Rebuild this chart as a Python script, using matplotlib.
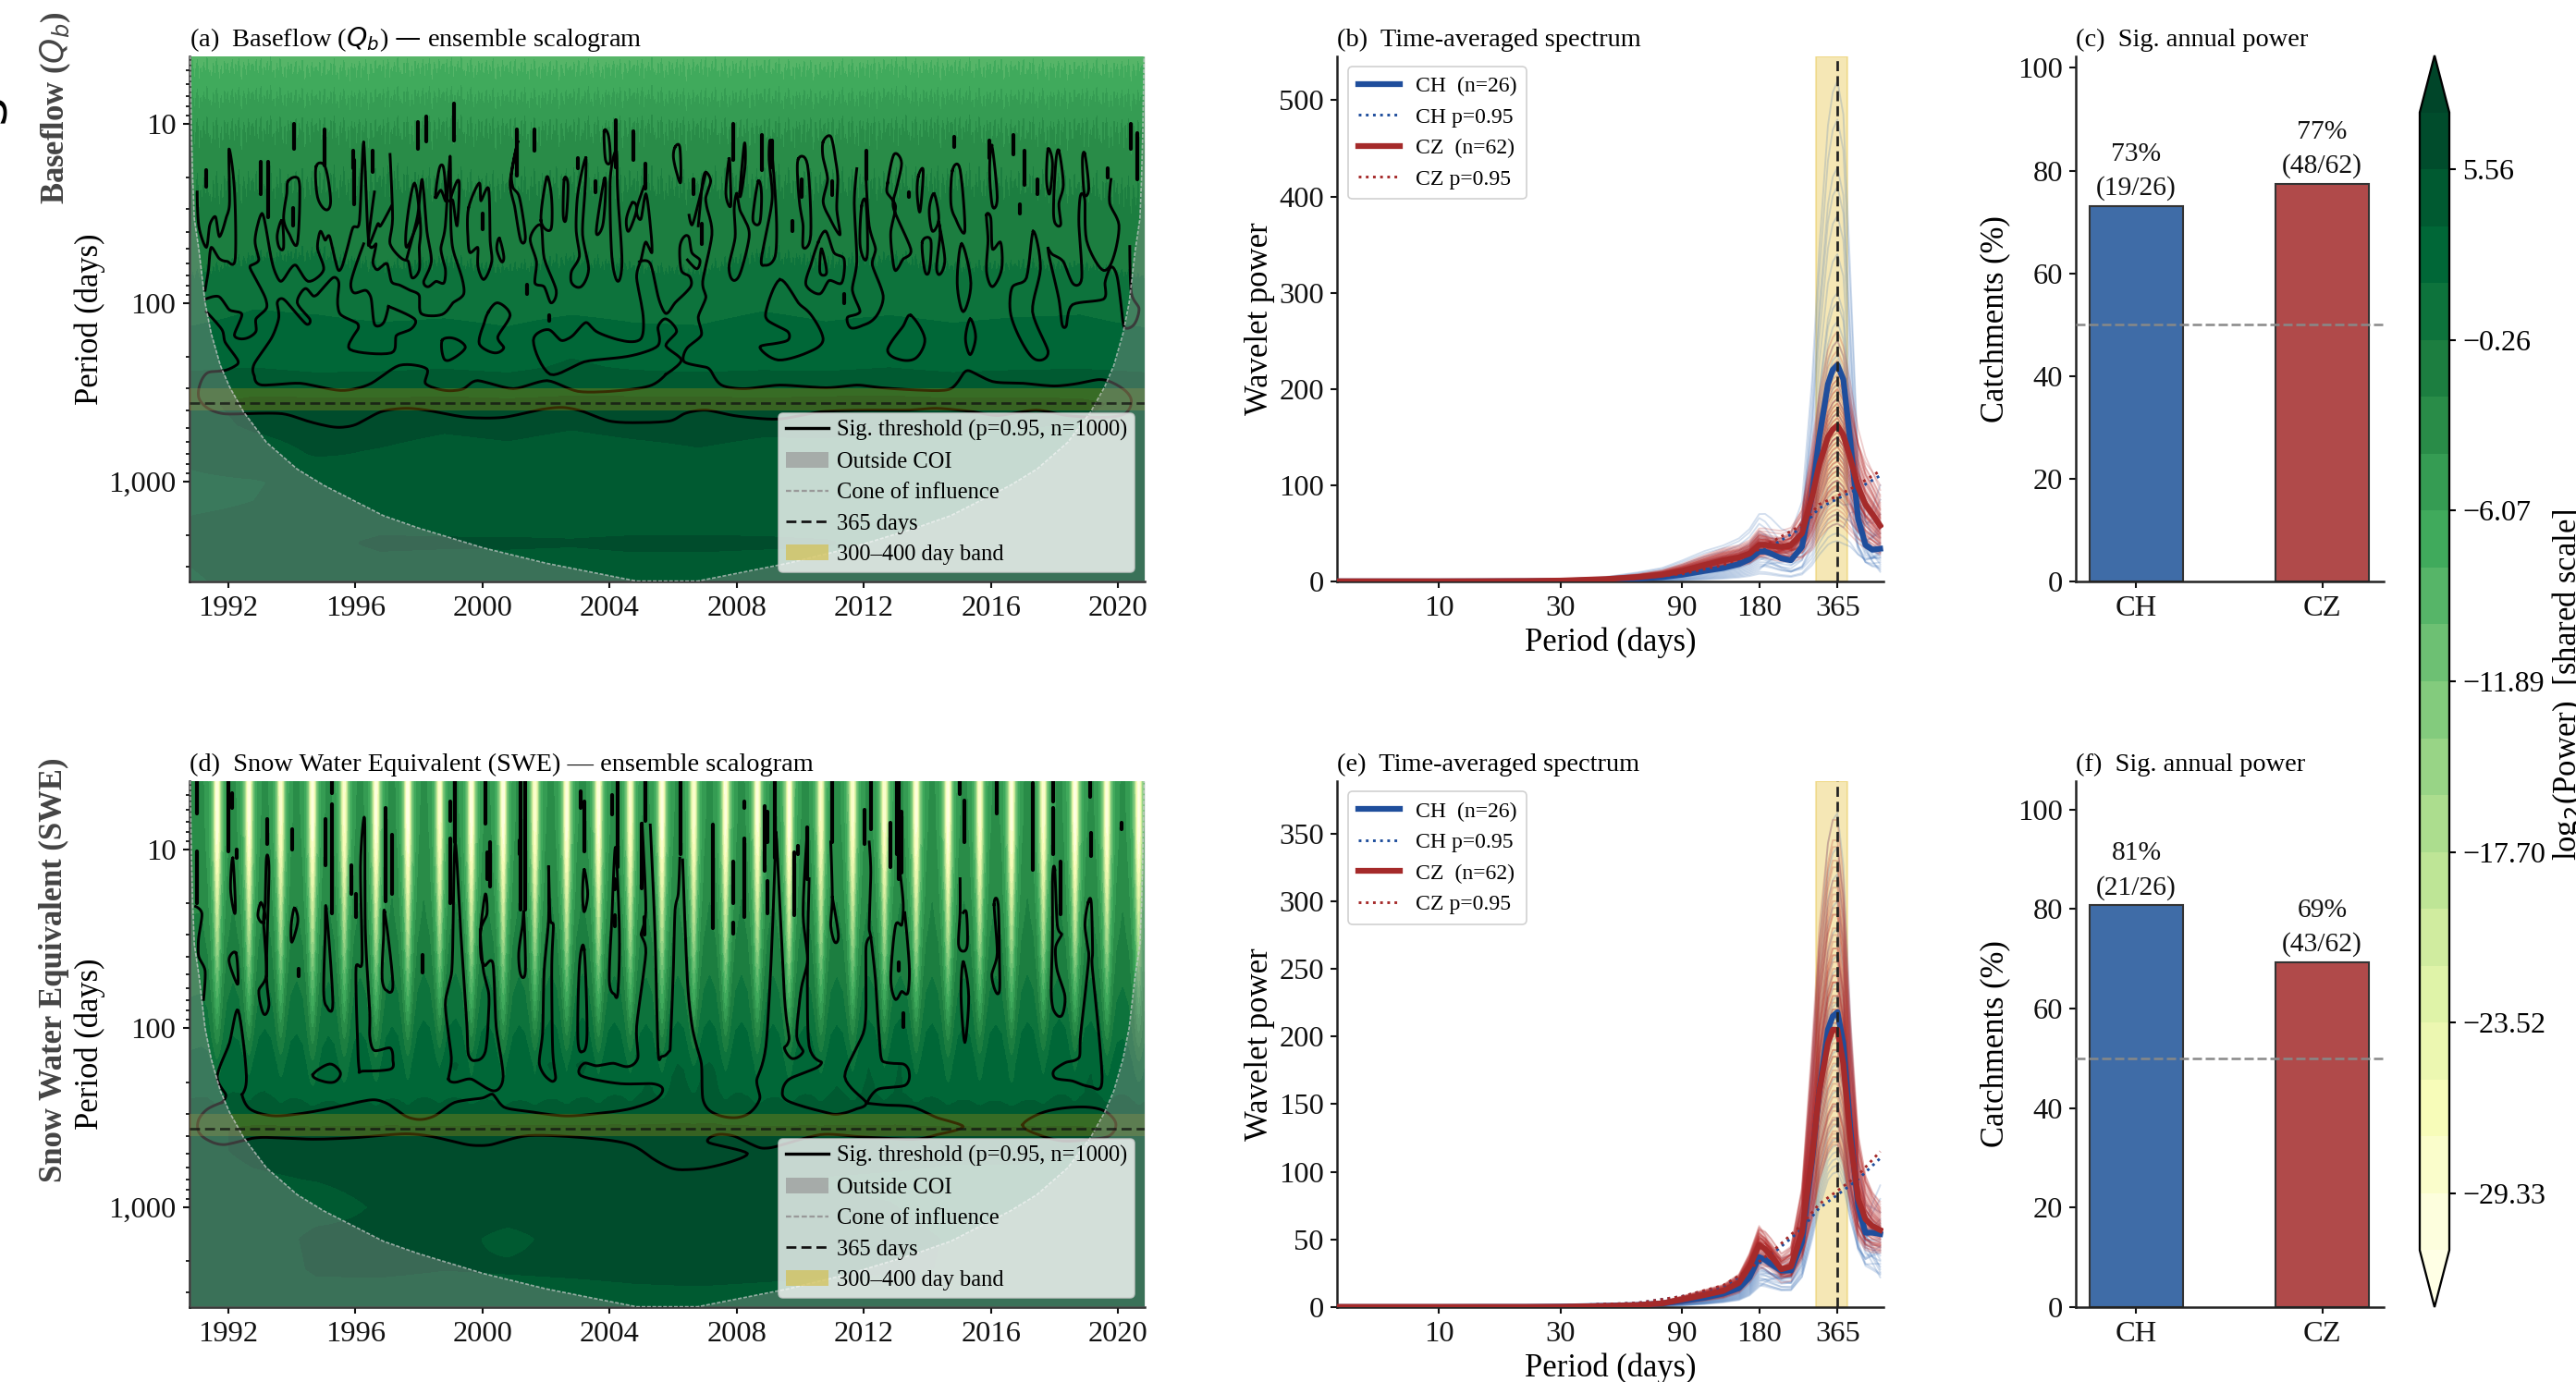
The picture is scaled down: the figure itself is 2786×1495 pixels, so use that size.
import numpy as np
import matplotlib
matplotlib.use('Agg')
import matplotlib.pyplot as plt
from matplotlib.lines import Line2D
from matplotlib.patches import Patch
from matplotlib.ticker import FuncFormatter, NullLocator

plt.rcParams['font.family'] = ['Liberation Serif', 'DejaVu Serif']

# ---- scalogram background, values (log2 power)
grid_years = [1990.8, 1992.8, 1994.8, 1996.8, 1998.8, 2000.8, 2002.8, 2004.8, 2006.8, 2008.8, 2010.8, 2012.8, 2014.8, 2016.8, 2018.8, 2020.8]
grid_periods = [4.2, 7, 10, 15, 22, 32, 50, 75, 110, 160, 230, 300, 365, 480, 700, 1000, 1500, 2200, 3650]
power_a = [
    [-9.1, -9.0, -9.2, -9.1, -9.0, -9.1, -9.2, -9.1, -9.0, -9.1, -9.2, -9.0, -9.1, -9.1, -9.2, -9.1],
    [-6.5, -6.3, -6.5, -6.4, -6.3, -6.5, -6.4, -6.3, -6.5, -6.4, -6.5, -6.3, -6.4, -6.5, -6.4, -6.5],
    [-4.7, -4.6, -4.6, -4.7, -4.5, -4.6, -4.7, -4.5, -4.6, -4.7, -4.6, -4.6, -4.5, -4.7, -4.6, -4.7],
    [-3.5, -3.4, -3.4, -3.3, -3.4, -3.5, -3.3, -3.4, -3.4, -3.3, -3.5, -3.4, -3.3, -3.4, -3.5, -3.6],
    [-2.6, -2.4, -2.4, -2.3, -2.4, -2.5, -2.3, -2.4, -2.5, -2.3, -2.4, -2.4, -2.3, -2.4, -2.5, -2.7],
    [-1.8, -1.4, -1.3, -1.4, -1.3, -1.5, -1.3, -1.4, -1.5, -1.3, -1.4, -1.3, -1.3, -1.4, -1.5, -1.9],
    [-1.1, -0.6, -0.5, -0.8, -0.7, -0.9, -0.6, -0.8, -0.9, -0.5, -0.7, -0.6, -0.8, -0.8, -0.9, -1.2],
    [-0.2, 0.4, 0.4, 0.0, 0.2, 0.0, 0.2, 0.0, -0.1, 0.4, 0.1, 0.3, 0.0, 0.1, 0.2, -0.2],
    [0.9, 1.7, 1.5, 1.1, 1.3, 1.0, 1.4, 1.1, 1.0, 1.6, 1.2, 1.4, 1.1, 1.3, 1.5, 0.9],
    [2.3, 2.7, 2.6, 2.5, 2.6, 2.2, 3.0, 2.4, 2.3, 3.0, 2.4, 2.9, 2.4, 2.8, 2.6, 2.2],
    [3.4, 3.6, 3.2, 3.3, 3.5, 3.2, 3.9, 3.4, 3.2, 3.4, 3.3, 3.6, 3.2, 3.4, 3.5, 3.3],
    [4.5, 5.0, 4.8, 4.9, 5.0, 4.8, 5.1, 5.0, 5.0, 4.9, 5.0, 5.1, 4.9, 5.0, 5.0, 4.6],
    [5.2, 6.0, 6.0, 5.9, 6.0, 5.9, 6.0, 6.0, 6.0, 5.9, 6.0, 6.0, 5.9, 5.9, 5.8, 5.2],
    [4.9, 5.8, 6.2, 6.1, 5.8, 6.0, 5.7, 6.0, 6.1, 5.9, 6.0, 5.9, 5.8, 5.7, 5.5, 5.0],
    [4.0, 4.8, 5.7, 5.4, 5.0, 5.2, 4.9, 5.1, 5.4, 5.1, 5.0, 4.9, 4.9, 4.7, 4.6, 4.2],
    [3.3, 3.5, 4.1, 4.6, 5.0, 4.7, 4.6, 4.8, 4.9, 5.3, 5.0, 4.6, 4.5, 4.5, 4.4, 3.9],
    [3.6, 3.7, 4.2, 4.5, 4.6, 4.5, 4.6, 4.5, 4.5, 4.7, 4.5, 4.5, 4.4, 4.4, 4.3, 3.8],
    [3.8, 4.1, 5.0, 5.9, 5.8, 5.8, 5.7, 5.9, 5.9, 5.8, 5.7, 5.0, 4.9, 4.6, 4.4, 3.9],
    [3.5, 3.9, 4.2, 4.3, 4.2, 4.3, 4.3, 4.4, 4.4, 4.3, 4.3, 4.2, 4.2, 4.1, 4.0, 3.6],
]
power_d = [
    [-3.6, -3.4, -3.5, -3.3, -3.4, -3.5, -3.3, -3.4, -3.5, -3.3, -3.4, -3.5, -3.4, -3.3, -3.5, -3.6],
    [-3.4, -3.2, -3.3, -3.1, -3.2, -3.3, -3.1, -3.2, -3.3, -3.1, -3.2, -3.3, -3.2, -3.1, -3.3, -3.4],
    [-3.2, -2.9, -3.0, -2.8, -2.9, -3.0, -2.8, -2.9, -3.0, -2.8, -2.9, -3.0, -2.9, -2.8, -3.0, -3.2],
    [-2.8, -2.6, -2.7, -2.5, -2.6, -2.7, -2.5, -2.6, -2.7, -2.5, -2.6, -2.7, -2.6, -2.5, -2.7, -2.8],
    [-2.3, -2.0, -2.1, -1.9, -2.0, -2.0, -1.8, -2.0, -2.0, -1.9, -2.0, -2.0, -2.0, -1.9, -2.0, -2.3],
    [-1.7, -1.3, -1.4, -1.2, -1.2, -1.3, -1.1, -1.3, -1.3, -1.2, -1.3, -1.3, -1.3, -1.2, -1.3, -1.7],
    [-1.0, -0.4, -0.6, -0.3, -0.2, -0.4, -0.2, -0.4, -0.3, -0.3, -0.4, -0.3, -0.4, -0.3, -0.3, -0.9],
    [0.0, 0.8, 0.6, 0.8, 1.1, 0.8, 1.2, 0.8, 1.0, 0.9, 0.8, 1.1, 0.8, 0.9, 1.1, 0.1],
    [0.9, 2.0, 1.6, 1.9, 2.6, 2.0, 2.6, 2.1, 2.5, 2.2, 2.0, 2.6, 2.0, 2.2, 2.6, 1.0],
    [2.4, 3.4, 2.5, 3.0, 3.8, 3.4, 3.9, 3.3, 3.8, 3.3, 3.2, 3.8, 3.0, 3.2, 3.8, 2.5],
    [3.3, 3.8, 2.9, 3.2, 3.3, 2.9, 3.2, 3.6, 4.4, 3.2, 3.7, 3.8, 3.1, 2.9, 3.8, 3.4],
    [4.4, 4.9, 4.6, 4.6, 4.9, 4.7, 4.8, 4.9, 5.0, 4.8, 4.7, 4.9, 4.7, 4.6, 4.9, 4.5],
    [5.2, 5.8, 5.7, 5.8, 5.7, 5.8, 5.8, 5.8, 5.9, 5.7, 5.8, 5.8, 5.7, 5.7, 5.7, 5.2],
    [5.2, 5.8, 6.0, 6.0, 5.8, 6.0, 6.0, 6.2, 6.2, 5.9, 6.1, 6.0, 5.8, 5.8, 5.6, 5.1],
    [5.0, 5.4, 5.6, 6.0, 6.1, 5.9, 6.1, 6.3, 6.3, 5.9, 5.5, 5.4, 5.3, 5.3, 5.2, 4.8],
    [4.2, 4.6, 5.0, 5.7, 5.9, 6.0, 5.9, 6.2, 6.3, 6.0, 5.7, 5.6, 5.3, 5.2, 5.0, 4.5],
    [4.3, 4.7, 5.9, 5.9, 5.9, 5.3, 5.9, 6.1, 6.2, 6.1, 5.9, 5.8, 5.5, 5.3, 5.1, 4.6],
    [4.2, 4.5, 5.8, 5.8, 5.6, 5.7, 5.8, 5.9, 6.0, 5.9, 5.8, 5.7, 5.5, 5.2, 5.0, 4.5],
    [3.9, 4.2, 4.6, 4.7, 4.7, 4.7, 4.8, 5.0, 5.0, 4.9, 4.8, 4.7, 4.6, 4.5, 4.3, 4.0],
]

# fine streaks at short periods in panel (a), pattern
streak_a = [0.5, -0.4, 0.8, -0.7, 0.2, 0.9, -0.9, 0.3, -0.2, 0.7, -0.6, 1.0, -0.3, 0.1, -0.8, 0.6,
            -0.5, 0.9, 0.0, -0.7, 0.4, -1.0, 0.7, -0.1, 0.6, -0.6, 0.2, 0.8, -0.9, 0.5, -0.3, 0.9,
            -0.4, -0.8, 0.6, 0.1, -0.6, 0.8, -0.2, 0.4]
streak_weight_a = [1.0, 1.0, 1.0, 0.9, 0.8, 0.6, 0.35, 0.15, 0, 0, 0, 0, 0, 0, 0, 0, 0, 0, 0]

# annual low-snow stripes in panel (d): drop in log2 power against distance from the stripe centre (years)
stripe_phase = [0, 0.05, 0.09, 0.14, 0.22, 0.32, 0.5]
stripe_periods = [4.2, 7, 10, 15, 22, 32, 50, 75, 110, 160, 230, 300, 365]
stripe_drop = [
    [-28, -27, -20, -10, -4.5, -1.6, 0],
    [-28, -27, -20, -10, -4.5, -1.6, 0],
    [-27, -25, -18, -9.5, -4.2, -1.5, 0],
    [-23, -21, -14, -8, -3.8, -1.4, 0],
    [-20, -17, -11, -6.5, -3.2, -1.2, 0],
    [-16, -14, -9.5, -5.6, -2.8, -1, 0],
    [-11, -9.5, -7, -4.5, -2.2, -0.7, 0],
    [-8, -7, -5.5, -3.6, -1.9, -0.6, 0],
    [-5, -4.6, -3.8, -2.7, -1.4, -0.4, 0],
    [-2.5, -2.3, -2.0, -1.5, -0.8, -0.2, 0],
    [-0.8, -0.8, -0.7, -0.5, -0.3, -0.1, 0],
    [-0.2, -0.2, -0.2, -0.1, -0.1, 0, 0],
    [0, 0, 0, 0, 0, 0, 0],
]
stripe_years = [1991.65, 1992.65, 1993.65, 1994.65, 1995.65, 1996.65, 1997.65, 1998.65, 1999.65, 2000.65,
                2001.65, 2002.65, 2003.65, 2004.65, 2005.65, 2006.65, 2007.65, 2008.65, 2009.65, 2010.65,
                2011.65, 2012.65, 2013.65, 2014.65, 2015.65, 2016.65, 2017.65, 2018.65, 2019.65, 2020.65]
stripe_strength = [1.0, 1.0, 0.9, 1.0, 0.9, 1.0, 1.05, 0.9, 1.0, 1.0, 0.92, 1.0, 1.0, 0.9, 1.0,
                   0.92, 0.98, 0.98, 1.02, 0.88, 0.92, 0.92, 0.98, 1.02, 0.92, 0.98, 0.92, 1.02, 0.98, 1.02]

# ---- cone of influence (year, log10 period), left half
coi_years = [1990.80, 1990.84, 1990.88, 1990.93, 1991.08, 1991.27, 1991.46, 1991.75, 1992.04, 1992.48, 1993.2, 1994.17, 1995.0, 1996.88, 1998.0, 2000.02, 2002.0, 2004.85]
coi_logp = [0.62, 1.05, 1.31, 1.53, 1.71, 2.0, 2.17, 2.35, 2.47, 2.61, 2.78, 2.93, 3.02, 3.19, 3.26, 3.37, 3.456, 3.556]
start_year, end_year = 1990.78, 2020.84

# ---- significance contours panel (a), (year, log10 period)
sig_open_a = [
    [(1991.02,1.38),(1991.07,1.57),(1991.31,1.69),(1991.41,1.57),(1991.60,1.52),(1991.72,1.63),(1991.94,1.52),(1992.04,1.43),(1992.02,1.14),(1992.19,1.36),(1992.22,1.75),(1991.99,1.77),(1991.70,1.75),(1991.46,1.69),(1991.38,1.81),(1991.27,1.93)],
    [(1991.27,1.98),(1991.70,1.965),(1992.04,2.04),(1992.43,2.065),(1992.19,2.18),(1992.53,2.20),(1992.87,2.16),(1992.87,2.09),(1993.2,2.03),(1993.11,1.95),(1992.72,1.82),(1992.72,1.79),(1992.96,1.76),(1992.84,1.65),(1993.06,1.50),(1993.25,1.65),(1993.4,1.79),(1993.64,1.88),(1993.88,1.83),(1994.13,1.79),(1994.51,1.88),(1995.0,1.815),(1994.81,1.70),(1994.9,1.60),(1995.05,1.65),(1995.19,1.63),(1995.44,1.81),(1995.63,1.77),(1995.92,1.58),(1996.13,1.54),(1996.26,1.10),(1996.41,1.65),(1996.65,1.67),(1996.55,1.77),(1996.7,1.815),(1996.99,1.78),(1997.13,1.88),(1997.38,1.90),(1997.72,1.93),(1998.01,1.96),(1998.07,2.06),(1998.73,2.065),(1999.07,2.0),(1999.41,1.95),(1999.32,1.84),(1999.07,1.70),(1999.0,1.53),(1998.98,1.18),(1998.83,1.57),(1998.69,1.70),(1998.83,1.81),(1998.78,1.89),(1998.54,1.88),(1998.3,1.91),(1998.15,1.88),(1998.39,1.77),(1998.25,1.60),(1998.1,1.31),(1997.96,1.51),(1997.62,1.75)],
    [(1997.09,1.17),(1997.17,1.53),(1997.09,1.67),(1997.48,1.755),(1997.67,1.77),(1997.78,1.86),(1998.01,1.815),(1998.01,1.69),(1998.05,1.57),(1997.86,1.33),(1997.62,1.55),(1997.62,1.69),(1998.01,1.53)],
    [(1996.6,1.38),(1996.5,1.51),(1996.41,1.68),(1996.7,1.56),(1996.79,1.57),(1997.13,1.46)],
    [(2005.08,1.35),(2004.85,1.48),(2004.99,1.53),(2005.14,1.39),(2005.28,1.565),(2005.33,1.72),(2005.14,1.66),(2004.99,1.76),(2004.85,1.86),(2005.04,2.05),(2004.99,2.20),(2004.36,2.21),(2003.58,2.16),(2003.25,2.11),(2002.86,2.18),(2002.47,2.21),(2002.08,2.15),(2001.6,2.21),(2002.13,2.40),(2003.2,2.33),(2004.55,2.30),(2005.52,2.24),(2005.52,2.14),(2005.77,2.09),(2006.11,2.16),(2005.77,2.24),(2006.26,2.32),(2005.77,2.40)],
    [(2004.94,1.77),(2005.28,1.78),(2005.52,1.96),(2005.77,2.06),(2006.06,2.0),(2006.55,1.91),(2006.5,1.85),(2006.26,1.82),(2006.21,1.69),(2006.35,1.63),(2006.5,1.635),(2006.59,1.72),(2006.84,1.76),(2006.74,1.81),(2006.45,1.76)],
    [(1997.04,2.02),(1997.86,2.09),(1997.72,2.15),(1997.28,2.185),(1997.13,2.28),(1995.82,2.26),(1996.07,2.15),(1996.02,2.11),(1995.53,2.065),(1995.44,1.98),(1995.48,1.89),(1995.29,1.86),(1994.85,1.945),(1994.66,1.96),(1994.42,1.92),(1994.17,2.0),(1994.56,2.09),(1994.47,2.12),(1994.17,2.065),(1993.74,1.98),(1993.54,2.0),(1993.59,2.08),(1993.35,2.20),(1992.82,2.34),(1992.82,2.41),(1993.06,2.46),(1994.27,2.45),(1995.53,2.49),(1996.5,2.45),(1997.38,2.35),(1998.25,2.37),(1998.2,2.45),(1998.83,2.49),(1999.41,2.48),(1999.85,2.435),(2000.97,2.48),(2002.03,2.435),(2003.0,2.495),(2004.36,2.49),(2005.33,2.46),(2005.77,2.40)],
    [(1997.04,2.02),(1996.89,2.11),(1996.6,2.12),(1996.5,1.98),(1996.31,1.93),(1995.97,1.945),(1995.87,1.875),(1996.26,1.67)],
    [(1991.31,2.05),(1991.8,2.15),(1991.9,2.22),(1992.28,2.315),(1992.24,2.35),(1991.85,2.38),(1991.36,2.39),(1991.12,2.45),(1991.07,2.53),(1991.36,2.59),(1991.85,2.62),(1992.53,2.62),(1993.69,2.62),(1994.47,2.66),(1995.34,2.695),(1996.02,2.68),(1996.79,2.61),(1997.67,2.59),(1998.54,2.61),(1999.51,2.64),(2000.67,2.64),(2001.74,2.60),(2002.52,2.585),(2003.2,2.61),(2003.97,2.66),(2004.85,2.67),(2005.91,2.66),(2006.35,2.62),(2007.03,2.60),(2007.9,2.63),(2009.31,2.65),(2010.62,2.61),(2012.07,2.60),(2013.43,2.60),(2014.3,2.59),(2015.47,2.61),(2016.25,2.63),(2017.41,2.60),(2018.38,2.63),(2019.54,2.64),(2020.22,2.62),(2020.42,2.55),(2020.22,2.49),(2019.74,2.44),(2019.35,2.43),(2018.77,2.45),(2017.99,2.465),(2017.02,2.45),(2016.05,2.44),(2015.32,2.38),(2015.08,2.41),(2014.74,2.48),(2014.0,2.49),(2012.56,2.475),(2011.78,2.46),(2010.81,2.475),(2009.36,2.46),(2008.29,2.48),(2007.52,2.46),(2007.22,2.39),(2007.03,2.36),(2006.35,2.33),(2006.45,2.25),(2006.89,2.18),(2006.79,2.08),(2007.03,1.97),(2006.93,1.88),(2007.22,1.62),(2007.08,1.48),(2007.03,1.41),(2007.18,1.32),(2007.03,1.27),(2006.93,1.32),(2006.84,1.48),(2006.79,1.57)],
    [(2006.5,1.51),(2006.59,1.565),(2006.74,1.48),(2007.03,1.27)],
    [(2017.8,1.695),(2017.94,1.73),(2018.28,1.77),(2018.57,1.89),(2018.86,1.86),(2018.77,1.565),(2018.82,1.40),(2018.96,1.43),(2019.01,1.65),(2019.5,1.815),(2019.84,1.755),(2020.03,1.565),(2019.74,1.445),(2019.78,1.31)],
    [(2017.8,1.695),(2017.85,1.755),(2018.14,1.98),(2018.24,2.12),(2018.38,2.125),(2018.57,2.01),(2019.54,1.98),(2019.59,1.89),(2019.78,1.80),(2019.98,1.86),(2020.13,2.065),(2020.22,2.14),(2020.51,2.12),(2020.66,2.03),(2020.42,1.945),(2020.37,1.685)],
    [(2011.78,1.25),(2011.7,1.445),(2011.78,1.77),(2011.64,1.93),(2011.88,2.05),(2011.49,2.08),(2011.59,2.14),(2011.98,2.125),(2012.37,2.08),(2012.61,1.96),(2012.27,1.79),(2012.37,1.70),(2012.17,1.57),(2012.07,1.31)],
]
sig_closed_a = [
    [(1993.88,1.32),(1994.17,1.30),(1994.25,1.39),(1994.17,1.67),(1993.93,1.62),(1993.74,1.53),(1993.84,1.39)],
    [(1993.69,1.54),(1993.74,1.69),(1993.6,1.69),(1993.54,1.62)],
    [(1994.76,1.24),(1995.05,1.24),(1995.22,1.43),(1995.07,1.48),(1994.81,1.41)],
    [(1998.52,1.41),(1998.64,1.25),(1998.78,1.25),(1998.85,1.43),(1998.69,1.37)],
    [(1998.98,1.43),(1999.17,1.33),(1999.27,1.34),(1999.2,1.57),(1999.07,1.43)],
    [(1999.56,1.47),(1999.9,1.33),(1999.95,1.43),(2000.19,1.36),(2000.24,1.65),(2000.29,1.77),(2000.04,1.87),(1999.85,1.79),(1999.85,1.69),(1999.61,1.72),(1999.54,1.63)],
    [(2000.53,1.64),(2000.67,1.74),(2000.6,1.77),(2000.45,1.70)],
    [(2001.11,1.10),(2000.92,1.27),(2000.97,1.36),(2001.16,1.41),(2001.35,1.63),(2001.2,1.65),(2001.01,1.46),(2000.87,1.32)],
    [(2001.84,1.565),(2001.5,1.64),(2001.7,1.77),(2001.65,1.89),(2001.94,1.91),(2002.15,2.0),(2002.32,1.93),(2001.94,1.75)],
    [(2001.84,1.54),(2001.99,1.32),(2002.08,1.31),(2002.18,1.43),(2002.15,1.59)],
    [(2002.57,1.31),(2002.69,1.34),(2002.63,1.53),(2002.54,1.51)],
    [(2003.25,1.19),(2003.22,1.39),(2003.15,1.62),(2003.34,1.81),(2003.1,1.91),(2002.81,1.89),(2002.81,1.82),(2003.05,1.74),(2002.95,1.60),(2003.0,1.39)],
    [(2003.83,1.04),(2003.97,1.07),(2004.02,1.21),(2003.87,1.20)],
    [(2003.83,1.31),(2003.58,1.60),(2003.78,1.57),(2003.87,1.39)],
    [(2004.21,1.15),(2004.02,1.31),(2004.07,1.74),(2004.26,1.88),(2004.39,1.77),(2004.28,1.46),(2004.24,1.32)],
    [(2004.72,1.44),(2004.53,1.53),(2004.6,1.60),(2004.85,1.48)],
    [(2000.19,2.05),(2000.48,2.0),(2000.87,2.07),(2000.48,2.19),(2000.67,2.25),(2000.38,2.28),(1999.9,2.23),(2000.04,2.12)],
    [(1998.73,2.21),(1999.12,2.20),(1999.46,2.25),(1999.03,2.315),(1998.78,2.31)],
    [(2006.06,1.13),(2006.21,1.13),(2006.24,1.32),(2006.14,1.29),(2006.01,1.19)],
    [(2007.76,1.195),(2007.66,1.39),(2007.81,1.46),(2007.8,1.3)],
    [(2008.0,1.39),(2008.1,1.48),(2008.29,1.55),(2008.39,1.635),(2008.1,1.84),(2007.86,1.87),(2007.76,1.79),(2007.95,1.635),(2007.92,1.48)],
    [(2008.1,1.38),(2008.24,1.11),(2008.27,1.22),(2008.15,1.38)],
    [(2008.68,1.32),(2008.78,1.39),(2008.73,1.55),(2008.53,1.55),(2008.53,1.48)],
    [(2009.07,1.10),(2009.24,1.48),(2009.21,1.74),(2008.87,1.79),(2008.78,1.75),(2009.02,1.53),(2009.12,1.39),(2009.02,1.20)],
    [(2009.94,1.195),(2010.23,1.23),(2010.33,1.62),(2010.09,1.69),(2010.09,1.57),(2009.99,1.46),(2009.92,1.31)],
    [(2010.72,1.10),(2010.96,1.07),(2011.11,1.20),(2011.18,1.31),(2011.15,1.48),(2011.25,1.62),(2010.91,1.52),(2010.72,1.43),(2010.86,1.31),(2010.72,1.19)],
    [(2010.57,1.66),(2010.81,1.60),(2011.06,1.72),(2011.38,1.755),(2011.3,1.89),(2010.91,1.875),(2010.62,1.95),(2010.18,1.90),(2010.33,1.79)],
    [(2010.67,1.70),(2010.83,1.83),(2010.62,1.83)],
    [(2011.93,1.46),(2011.88,1.67),(2012.03,1.76),(2012.12,1.70),(2012.07,1.44)],
    [(2012.75,1.33),(2012.95,1.17),(2013.19,1.22),(2013.0,1.38),(2012.95,1.48),(2013.48,1.70),(2013.24,1.755),(2013.0,1.82),(2012.9,1.74),(2012.85,1.60),(2013.0,1.46),(2012.75,1.39)],
    [(2013.72,1.29),(2013.87,1.26),(2013.77,1.49),(2013.68,1.39)],
    [(2014.21,1.39),(2014.36,1.53),(2014.16,1.60),(2014.06,1.48)],
    [(2014.36,1.55),(2014.55,1.755),(2014.4,1.84),(2014.29,1.80),(2014.4,1.62)],
    [(2013.84,1.66),(2014.11,1.65),(2014.06,1.82),(2013.92,1.82)],
    [(2014.79,1.26),(2015.03,1.255),(2015.18,1.60),(2014.89,1.53),(2014.74,1.44)],
    [(2015.08,1.67),(2015.37,1.89),(2015.13,2.05),(2014.94,1.89)],
    [(2015.35,2.09),(2015.52,2.19),(2015.35,2.29),(2015.2,2.2)],
    [(2015.86,1.51),(2016.0,1.53),(2016.05,1.70),(2016.3,1.66),(2016.34,1.81),(2016.05,1.91),(2015.86,1.82),(2015.91,1.65)],
    [(2016.03,1.12),(2016.2,1.41),(2016.05,1.46),(2015.96,1.27)],
    [(2017.33,1.60),(2017.56,1.81),(2017.31,2.05),(2017.8,2.27),(2017.46,2.32),(2017.07,2.25),(2016.63,2.07),(2016.68,1.91),(2017.12,1.86)],
    [(2017.8,1.14),(2017.94,1.22),(2017.85,1.39),(2017.75,1.31)],
    [(2018.14,1.15),(2018.28,1.34),(2018.14,1.445),(2018.2,1.56),(2018.04,1.56),(2017.97,1.48),(2018.04,1.22)],
    [(2018.96,1.17),(2019.08,1.36),(2018.94,1.39),(2018.88,1.2)],
    [(2009.36,1.87),(2009.94,2.0),(2010.33,2.065),(2010.72,2.20),(2010.33,2.27),(2009.31,2.32),(2008.73,2.25),(2009.12,2.23),(2009.6,2.21),(2009.6,2.16),(2009.07,2.11),(2008.92,2.05)],
    [(2013.48,2.07),(2013.92,2.20),(2013.63,2.31),(2013.09,2.315),(2012.75,2.26),(2013.24,2.13)],
]
# thin streak-like contours: year, top log10 period, bottom log10 period
sig_dash_a = [
    (1991.31,1.26,1.35),(1994.08,1.0,1.14),(1995.02,1.03,1.23),(1997.96,0.99,1.14),(1998.23,0.96,1.10),
    (1999.09,0.885,1.09),(2001.64,1.03,1.15),(2004.75,1.04,1.20),(2004.19,0.98,1.24),(1996.55,1.15,1.27),
    (1995.92,1.15,1.25),(2003.0,1.19,1.25),(2003.56,1.32,1.38),(2001.08,1.03,1.29),(2005.14,1.22,1.36),
    (1993.03,1.21,1.39),(1993.25,1.21,1.52),(1994.05,1.47,1.57),(1995.95,1.20,1.45),(2000.0,1.50,1.59),
    (2002.1,2.07,2.10),(2001.4,1.90,1.95),(2007.90,1.0,1.20),(2008.78,1.06,1.26),(2009.12,1.09,1.24),
    (2006.64,1.31,1.39),(2009.75,1.54,1.60),(2011.38,1.95,2.0),(2014.84,1.07,1.13),(2016.71,1.06,1.17),
    (2015.94,1.09,1.19),(2017.07,1.15,1.34),(2017.46,1.31,1.39),(2016.91,1.45,1.50),(2020.40,1.0,1.14),
    (2020.61,1.05,1.31),(2019.69,1.25,1.30),(2013.41,1.38,1.41),(2012.07,1.15,1.31),(2011.0,1.32,1.40),
    (2010.04,1.31,1.41),(2006.91,1.56,1.67),
]

# ---- significance contours panel (d)
sig_open_d = [
    [(1991.8,2.415),(1991.36,2.45),(1991.07,2.51),(1991.07,2.58),(1991.41,2.63),(1991.9,2.65),(1992.62,2.62),(1993.2,2.61),(1994.66,2.62),(1996.12,2.61),(1997.57,2.59),(1998.54,2.61),(1999.51,2.65),(2000.29,2.65),(2001.45,2.60),(2003.39,2.615),(2004.65,2.65),(2005.33,2.725),(2005.91,2.78),(2006.45,2.79),(2007.32,2.77),(2008.34,2.70),(2007.13,2.64),(2007.37,2.595),(2007.95,2.605),(2008.68,2.665),(2009.26,2.66),(2010.62,2.595),(2011.78,2.605),(2013.53,2.62),(2014.3,2.595),(2015.13,2.55),(2014.31,2.50),(2013.53,2.44),(2012.75,2.43),(2012.17,2.42),(2012.12,2.41),(2012.46,2.34),(2013.29,2.32),(2013.43,2.25),(2013.24,2.2),(2012.66,2.19),(2012.51,2.11),(2012.37,1.735),(2012.22,1.49),(2012.17,1.425),(2012.22,1.13),(2012.17,0.96)],
    [(1992.43,2.37),(1992.67,2.45),(1993.5,2.49),(1994.85,2.46),(1995.92,2.42),(1996.6,2.40),(1997.09,2.43),(1997.57,2.49),(1998.05,2.51),(1998.54,2.485),(1999.12,2.415),(2000.0,2.39),(2000.33,2.37),(2000.67,2.44),(2001.45,2.465),(2002.61,2.49),(2003.68,2.475),(2004.65,2.45),(2005.43,2.40),(2005.67,2.34),(2005.33,2.31),(2004.36,2.31),(2003.1,2.265),(2003.2,2.196),(2003.58,2.21),(2004.12,2.196),(2004.55,2.215),(2004.89,2.165),(2004.85,1.99),(2005.14,1.58),(2004.99,1.476),(2005.14,1.34),(2005.02,0.856)],
    [(1992.43,2.37),(1992.57,2.27),(1992.31,1.90),(1992.04,2.08),(1991.65,2.27),(1991.92,2.37),(1991.8,2.415)],
    [(1990.97,1.32),(1991.17,1.36),(1991.07,1.49),(1991.07,1.60),(1991.27,1.68),(1991.22,1.84)],
    [(2005.28,0.865),(2005.43,1.476),(2005.52,2.11),(2005.62,2.16),(2005.87,2.13),(2005.92,2.06),(2006.01,1.65),(2006.06,1.34),(2006.16,1.25),(2006.21,1.05)],
    [(2006.3,1.06),(2006.45,1.735),(2006.64,2.03),(2006.89,2.2),(2006.93,2.39),(2007.23,2.47),(2007.86,2.50),(2008.39,2.475),(2008.73,2.39),(2008.63,2.29),(2008.92,2.10),(2009.12,1.476),(2009.21,1.03),(2009.26,0.96),(2009.5,1.82),(2009.65,2.06),(2009.5,2.11),(2009.75,2.17),(2010.09,2.13),(2009.89,2.045),(2010.04,1.77),(2010.23,1.615),(2010.09,1.37),(2010.18,1.01),(2010.23,0.88)],
    [(2010.28,1.165),(2010.23,1.615),(2010.28,2.10),(2010.67,2.19),(2010.33,2.235),(2009.65,2.285),(2009.44,2.355),(2009.65,2.41),(2010.72,2.467),(2011.2,2.48),(2011.78,2.45),(2012.06,2.41),(2011.4,2.27),(2011.98,2.03),(2012.07,1.82),(2012.07,1.545),(2012.22,1.49)],
    [(2010.96,0.96),(2011.01,1.27),(2010.96,1.425),(2011.09,1.52),(2011.2,1.476),(2011.01,1.27)],
    [(2013.14,1.13),(2013.24,1.30),(2013.19,1.425),(2013.0,1.425),(2012.85,1.72),(2013.0,1.84),(2013.19,1.795),(2013.38,1.805),(2013.43,1.65),(2013.29,1.355)],
    [(2015.03,1.165),(2015.03,1.355),(2014.98,1.53),(2015.13,1.57),(2015.26,1.53),(2015.23,1.355),(2015.13,1.355)],
]
sig_closed_d = [
    [(2017.0,2.54),(2017.7,2.467),(2018.77,2.44),(2019.54,2.46),(2019.93,2.53),(2019.74,2.6),(2019.16,2.62),(2018.28,2.63),(2017.5,2.595)],
    [(1996.12,2.235),(1996.22,2.24),(1997.09,2.23),(1997.18,2.18),(1997.09,2.11),(1996.6,2.125),(1996.45,2.04),(1996.45,1.91),(1996.31,1.44),(1996.29,0.83),(1996.16,1.10),(1996.21,1.63),(1996.02,1.66),(1996.07,2.08)],
    [(1994.66,2.26),(1995.19,2.2),(1995.53,2.25),(1995.34,2.30),(1994.95,2.295)],
    [(1998.93,2.285),(1999.22,2.30),(1999.66,2.285),(2000.33,2.35),(2000.65,2.27),(2000.43,1.99),(2000.33,1.64),(2000.09,1.65),(1999.95,1.60),(1999.95,1.445),(2000.14,1.36),(2000.09,1.25),(1999.95,1.43),(1999.95,1.53),(2000.04,1.69),(2000.19,1.80),(2000.19,1.92),(2000.09,2.13),(1999.8,2.18),(1999.56,2.15),(1999.51,1.99),(1999.32,1.476),(1999.14,0.96),(1999.07,1.476),(1999.02,1.70),(1998.83,1.87),(1999.02,2.165)],
    [(2002.08,1.10),(2002.13,1.39),(2002.23,1.425),(2002.18,1.65),(2002.21,2.13),(2002.3,2.28),(2002.08,2.285),(2001.79,2.2),(2001.89,2.03),(2001.94,1.68),(2002.08,1.39)],
    [(2003.2,1.56),(2003.29,2.03),(2003.15,2.13),(2003.0,2.06),(2003.05,1.65)],
    [(2003.2,1.115),(2003.31,1.25),(2003.2,1.35),(2003.15,1.25)],
    [(2004.21,1.03),(2004.31,1.476),(2004.26,1.80),(2004.15,1.81),(2003.99,1.735),(2004.07,1.39),(2004.15,1.05)],
    [(2001.3,1.36),(2001.35,1.68),(2001.2,1.70),(2001.14,1.58),(2001.26,1.425)],
    [(1993.11,1.41),(1993.2,1.70),(1992.96,1.79),(1993.11,1.92),(1993.28,1.87),(1993.2,1.68),(1993.28,1.13),(1993.2,1.05),(1993.16,1.30)],
    [(1993.03,1.30),(1992.93,1.37),(1993.06,1.41),(1993.16,1.37)],
    [(1992.24,1.58),(1992.02,1.62),(1992.24,1.74),(1992.31,1.735)],
    [(1992.14,1.05),(1992.22,1.30),(1992.19,1.355),(1992.07,1.22)],
    [(1994.08,1.33),(1994.19,1.40),(1994.0,1.52),(1993.98,1.425)],
    [(1995.08,1.33),(1995.29,1.855),(1995.1,1.88),(1995.0,1.79),(1995.05,1.476)],
    [(1996.92,1.35),(1997.18,1.75),(1996.99,1.79),(1996.84,1.72),(1996.89,1.476)],
    [(2015.13,1.63),(2015.3,1.82),(2015.18,2.08),(2015.06,1.82)],
    [(2016.1,1.31),(2016.23,1.31),(2016.27,1.63),(2016.27,1.79),(2016.15,1.795),(2016.03,1.70),(2016.2,1.58)],
    [(2018.01,1.115),(2018.09,1.425),(2018.23,1.476),(2018.04,1.545),(2018.09,1.68),(2018.33,1.82),(2018.23,1.93),(2017.99,1.905),(2017.9,1.79),(2017.94,1.476),(2017.94,1.165)],
    [(2019.06,1.30),(2019.16,1.30),(2019.2,1.58),(2019.2,1.68),(2019.5,2.27),(2019.2,2.33),(2018.57,2.295),(2018.04,2.28),(2017.99,2.235),(2018.38,2.19),(2018.77,2.165),(2018.82,2.045),(2019.06,1.65),(2019.06,1.56),(2018.96,1.425)],
]
sig_dash_d = [
    (1992.0,0.615,1.01),(1992.11,0.685,0.77),(1992.26,1.0,1.05),(1993.23,0.83,0.97),(1994.0,0.89,1.0),
    (1995.26,0.615,0.685),(1995.26,0.75,1.36),(1995.05,0.83,1.09),(1995.87,1.09,1.25),(1996.96,0.77,1.29),
    (1997.15,0.92,1.25),(1998.98,0.735,0.84),(1998.98,0.94,1.30),(1999.14,0.615,0.96),(2000.09,0.615,0.856),
    (2000.14,1.02,1.17),(2000.24,0.96,1.21),(2001.16,0.95,1.03),(2001.21,0.615,1.34),(2001.33,0.615,1.34),
    (2003.1,0.675,0.77),(2003.2,0.735,1.01),(2004.07,0.70,0.805),(2004.24,0.615,1.10),(2004.17,1.165,1.225),
    (2004.17,1.37,1.43),(2005.14,0.615,0.84),(2005.02,0.856,1.22),(2005.09,1.38,1.476),(1991.02,0.615,0.80),
    (1991.02,1.01,1.30),(1998.1,1.59,1.69),(1994.2,1.67,1.71),(1996.02,1.25,1.38),
    (2006.24,0.615,1.03),(2007.24,0.865,1.44),(2007.9,1.07,1.30),(2007.88,1.41,1.47),(2008.24,0.735,0.77),
    (2008.24,0.94,1.38),(2008.87,0.76,1.12),(2008.97,0.79,0.96),(2008.97,1.18,1.36),(2009.21,0.615,1.05),
    (2009.82,1.02,1.37),(2009.94,0.98,1.03),(2010.23,0.88,1.165),(2010.99,0.615,0.96),(2012.03,0.78,0.97),
    (2012.22,0.62,0.89),(2012.85,0.85,1.10),(2013.09,0.615,1.17),(2013.19,0.79,1.13),(2013.05,0.615,1.03),
    (2015.03,0.615,0.69),(2015.18,0.73,0.96),(2016.17,0.615,0.80),(2017.33,0.63,1.115),(2017.97,0.615,0.735),
    (2017.97,0.77,1.03),(2018.19,1.07,1.365),(2019.11,0.615,0.71),(2019.14,0.91,1.04),(2020.11,0.85,0.89),
    (2013.09,1.63,1.68),(2013.24,1.915,1.995),
]

# ---- time-averaged spectra
spec_periods = [4, 7, 10, 15, 22, 30, 45, 60, 75, 90, 110, 130, 150, 165, 180, 190, 200, 220, 240, 265, 290, 310, 335, 350, 365, 385, 410, 440, 470, 500, 537]
ch_mean_b = [0.1, 0.1, 0.1, 0.2, 0.3, 0.6, 1.5, 3, 4.5, 7, 11, 14, 18, 23, 31, 31, 29, 24, 22, 36, 90, 150, 205, 220, 225, 210, 145, 65, 38, 33, 34]
cz_mean_b = [0.2, 0.2, 0.2, 0.3, 0.5, 0.9, 2.5, 4.5, 7, 11, 17, 22, 25, 29, 38, 38, 37, 36, 38, 50, 88, 122, 150, 158, 162, 152, 128, 98, 80, 70, 58]
ch_mean_e = [0.1, 0.1, 0.1, 0.2, 0.2, 0.4, 1, 1.6, 2.8, 4.6, 7, 10, 14, 22, 37, 35, 32, 27, 27, 48, 108, 160, 205, 215, 218, 195, 132, 75, 55, 55, 54]
cz_mean_e = [0.2, 0.2, 0.2, 0.2, 0.2, 0.3, 0.8, 1.5, 2.8, 5.6, 9, 12, 18, 30, 46, 43, 38, 28, 30, 55, 110, 160, 195, 205, 205, 180, 125, 80, 65, 60, 57]
sig_periods = [30, 60, 90, 130, 165, 211, 262, 309, 365, 437, 537]
ch_sig_b = [1, 3, 7, 15, 25, 40, 55, 76, 86, 96, 110]
cz_sig_b = [1, 3, 8, 17, 28, 44, 58, 80, 89, 100, 115]
ch_sig_e = [1, 3, 8, 15, 27, 42, 57, 73, 83, 94, 110]
cz_sig_e = [1, 3, 8, 16, 28, 44, 60, 76, 86, 97, 115]

# single catchments: power near 180 days, at the annual peak and at the long end
ch_semi_b = [70, 24, 45, 12, 60, 30, 8, 38, 52, 22, 66, 18, 34, 42, 10, 48, 26, 32, 14, 40, 28, 20, 36, 16, 25, 30]
ch_peak_b = [520, 60, 290, 480, 150, 250, 42, 410, 120, 340, 235, 85, 430, 175, 50, 380, 70, 205, 300, 105, 270, 135, 190, 95, 160, 220]
ch_tail_b = [38, 100, 22, 45, 14, 70, 32, 26, 55, 12, 36, 85, 18, 40, 30, 10, 60, 24, 34, 20, 50, 16, 34, 28, 25, 30]
cz_semi_b = [38, 42, 30, 50, 36, 28, 44, 55, 33, 39, 47, 25, 41, 34, 37, 52, 29, 43, 35, 48, 31, 40, 45, 27, 38, 36, 49, 32, 42, 39, 26, 46,
             34, 41, 37, 53, 30, 44, 35, 40, 28, 47, 33, 38, 43, 31, 50, 36, 29, 45, 39, 34, 42, 37, 27, 48, 35, 40, 32, 44, 38, 41]
cz_peak_b = [260, 120, 180, 90, 215, 150, 75, 240, 135, 165, 105, 200, 60, 175, 145, 225, 115, 190, 85, 155, 130, 210, 100, 170, 140, 250, 95, 185, 125, 160, 70, 205,
             150, 110, 195, 80, 165, 135, 220, 105, 175, 120, 155, 65, 230, 145, 190, 100, 170, 130, 160, 88, 200, 140, 115, 180, 150, 210, 125, 165, 98, 185]
cz_tail_b = [95, 45, 70, 30, 100, 55, 38, 80, 50, 62, 35, 75, 28, 60, 48, 90, 42, 66, 33, 58, 52, 85, 40, 64, 46, 72, 36, 68, 54, 60, 30, 78,
             56, 44, 70, 34, 62, 50, 82, 40, 66, 47, 58, 32, 88, 53, 69, 41, 61, 49, 57, 37, 74, 51, 43, 65, 55, 76, 46, 63, 39, 67]
ch_semi_e = [40, 22, 32, 15, 36, 27, 18, 38, 30, 24, 34, 20, 37, 28, 16, 33, 25, 35, 19, 31, 26, 21, 36, 17, 29, 23]
ch_peak_e = [365, 110, 240, 320, 150, 210, 100, 300, 135, 260, 190, 125, 340, 170, 105, 280, 140, 225, 250, 120, 200, 160, 230, 115, 180, 215]
ch_tail_e = [55, 90, 30, 70, 24, 60, 45, 35, 65, 22, 50, 80, 28, 58, 42, 26, 62, 38, 52, 32, 48, 25, 56, 40, 34, 44]
cz_semi_e = [46, 52, 38, 60, 44, 33, 50, 57, 40, 47, 54, 28, 49, 42, 45, 58, 35, 51, 43, 55, 37, 48, 53, 31, 46, 44, 56, 39, 50, 47, 30, 53,
             41, 49, 45, 59, 36, 52, 43, 48, 34, 55, 40, 46, 51, 37, 57, 44, 35, 52, 47, 41, 50, 45, 32, 54, 42, 48, 39, 51, 46, 49]
cz_peak_e = [360, 180, 260, 140, 310, 220, 125, 340, 195, 240, 160, 290, 120, 250, 210, 325, 170, 275, 135, 230, 190, 300, 150, 245, 205, 345, 145, 265, 185, 235, 130, 295,
             215, 165, 280, 128, 240, 200, 315, 155, 255, 175, 225, 122, 330, 210, 270, 150, 245, 190, 230, 138, 290, 205, 170, 260, 220, 305, 185, 240, 148, 265]
cz_tail_e = [72, 50, 62, 42, 78, 56, 46, 70, 52, 60, 44, 66, 40, 58, 54, 74, 48, 64, 43, 57, 51, 68, 45, 61, 53, 76, 47, 63, 55, 59, 41, 67,
             57, 49, 65, 44, 60, 53, 71, 46, 62, 50, 58, 42, 73, 54, 64, 47, 59, 52, 56, 45, 69, 55, 48, 61, 57, 70, 51, 60, 46, 63]

# ---- significant annual power
bar_labels = ['CH', 'CZ']
bar_values_c = [73.08, 77.42]
bar_values_f = [80.77, 69.35]
bar_notes_c = ['73%\n(19/26)', '77%\n(48/62)']
bar_notes_f = ['81%\n(21/26)', '69%\n(43/62)']

# ---- colour scale
level_low, level_high, n_levels = -31.27, 7.5, 21
cbar_ticks = [-29.33, -23.52, -17.70, -11.89, -6.07, -0.26, 5.56]

W, H = 2787, 1495
CH_COL, CZ_COL = '#1f4e9c', '#a52a2a'


def rect(left, top, right, bottom):
    return [left / W, 1 - bottom / H, (right - left) / W, (bottom - top) / H]


def smooth(pts, closed, n=3):
    p = np.array(pts, dtype=float)
    for _ in range(n):
        if closed:
            a, b, c, d = np.roll(p, 1, axis=0), p, np.roll(p, -1, axis=0), np.roll(p, -2, axis=0)
            mid = 9 / 16 * (b + c) - 1 / 16 * (a + d)
            q = np.empty((2 * len(p), 2))
            q[0::2] = p
            q[1::2] = mid
        else:
            e = np.vstack([p[0], p, p[-1]])
            mid = 9 / 16 * (e[1:-2] + e[2:-1]) - 1 / 16 * (e[:-3] + e[3:])
            q = np.empty((2 * len(p) - 1, 2))
            q[0::2] = p
            q[1::2] = mid
        p = q
    if closed:
        p = np.vstack([p, p[0]])
    return p


def background(table, t, lp):
    table = np.array(table, dtype=float)
    rows = np.log10(grid_periods)
    cols = np.array([np.interp(lp, rows, table[:, j]) for j in range(table.shape[1])])
    return np.array([np.interp(t, grid_years, cols[:, i]) for i in range(len(lp))])


t_fine = np.arange(start_year, end_year + 0.012, 0.0125)
lp_fine = np.linspace(np.log10(4.17), np.log10(3620), 320)

# panel (a) field
z_a = background(power_a, t_fine, lp_fine)
streak_t = start_year + 0.05 * np.arange(len(streak_a) * 16)
streak_v = np.interp(t_fine, streak_t, np.tile(streak_a, 16))
weight = np.interp(lp_fine, np.log10(grid_periods), streak_weight_a)
z_a = z_a + np.outer(weight, streak_v)

# panel (d) field
z_d = background(power_d, t_fine, lp_fine)
centres = np.array(stripe_years)
nearest = np.abs(t_fine[:, None] - centres[None, :]).argmin(axis=1)
dist = np.abs(t_fine - centres[nearest])
strength = np.array(stripe_strength)[nearest]
drops = np.array(stripe_drop, dtype=float)
for i, v in enumerate(lp_fine):
    prof = [np.interp(v, np.log10(stripe_periods), drops[:, j]) for j in range(drops.shape[1])]
    z_d[i] += np.interp(dist, stripe_phase, prof) * strength

levels = np.linspace(level_low, level_high, n_levels)
fig = plt.figure(figsize=(W / 300, H / 300), dpi=300, facecolor='white')


def style_axis(ax):
    ax.spines['top'].set_visible(False)
    ax.spines['right'].set_visible(False)
    for s in ax.spines.values():
        s.set_linewidth(0.6)
        s.set_color('#222222')
    ax.tick_params(axis='both', which='major', labelsize=7.8, length=1.6, width=0.5, pad=1.9, colors='#111111')
    ax.tick_params(axis='both', which='minor', length=0.9, width=0.4)


def scalogram(rc, field, open_loops, closed_loops, dashes, title):
    ax = fig.add_axes(rc)
    cf = ax.contourf(t_fine, 10 ** lp_fine, field, levels=levels, cmap='YlGn', extend='both')
    ax.set_yscale('log')
    ax.set_ylim(3614, 4.17)
    ax.set_xlim(start_year, end_year)
    for pts in open_loops:
        s = smooth(pts, False)
        ax.plot(s[:, 0], 10 ** s[:, 1], color='k', lw=0.7, zorder=2)
    for pts in closed_loops:
        s = smooth(pts, True)
        ax.plot(s[:, 0], 10 ** s[:, 1], color='k', lw=0.7, zorder=2)
    for yr, top, bot in dashes:
        ax.plot([yr, yr], [10 ** top, 10 ** bot], color='k', lw=1.0, solid_capstyle='round', zorder=2)
    ax.axhspan(300, 400, color='#b8960c', alpha=0.3, lw=0, zorder=3)
    left_t = np.array(coi_years)
    left_p = 10 ** np.array(coi_logp)
    right_t = (start_year + end_year) - left_t[::-1]
    coi_t = np.concatenate([[start_year], left_t, right_t, [end_year]])
    coi_p = np.concatenate([[4.17], left_p, left_p[::-1], [4.17]])
    ax.fill_between(coi_t, coi_p, 3614, color='#999999', alpha=0.38, lw=0, zorder=4)
    ax.plot(coi_t, coi_p, color='#cfcfcf', lw=0.4, alpha=0.7, ls=(0, (2.5, 1.0)), zorder=4)
    ax.axhline(365, color='#111111', lw=0.65, ls=(0, (4, 2)), alpha=0.75, zorder=5)
    style_axis(ax)
    ax.set_xticks(np.arange(1992, 2021, 4))
    ax.yaxis.set_major_formatter(FuncFormatter(lambda v, _: f'{int(v):,}'))
    ax.set_ylabel('Period (days)', fontsize=8.3, labelpad=0.8)
    ax.set_title(title, loc='left', fontsize=6.8, pad=2.6)
    handles = [Line2D([], [], color='k', lw=0.8),
               Patch(color='#999999', alpha=0.7, lw=0),
               Line2D([], [], color='#999999', lw=0.55, ls=(0, (2.5, 1.2))),
               Line2D([], [], color='#111111', lw=0.65, ls=(0, (4, 2))),
               Patch(color='#d4c050', alpha=0.7, lw=0)]
    names = ['Sig. threshold (p=0.95, n=1000)', 'Outside COI', 'Cone of influence', '365 days', '300–400 day band']
    leg = ax.legend(handles, names, loc='lower right', bbox_to_anchor=(0.989, 0.018), borderaxespad=0,
                    fontsize=5.9, framealpha=0.78, edgecolor='#cccccc', handlelength=1.9, handletextpad=0.35,
                    labelspacing=0.46, borderpad=0.3, facecolor='white')
    leg.get_frame().set_linewidth(0.4)
    leg.set_zorder(10)
    return ax, cf


def lines_for(periods, mean, semi, peak, tail):
    mean = np.array(mean, dtype=float)
    lp = np.log10(periods)
    at = lambda p: np.interp(np.log10(p), lp, mean)
    out = []
    for s, pk, tl in zip(semi, peak, tail):
        ms = s / at(180)
        m = np.interp(lp, np.log10([90, 180, 290, 400, 537]), [ms ** 1.4, ms, pk / at(365), pk / at(365), tl / at(537)])
        out.append(mean * m)
    return out


def spectrum(rc, ymax, yticks, title, ch_mean, cz_mean, ch_sig, cz_sig, ch_lists, cz_lists):
    ax = fig.add_axes(rc)
    ax.set_xscale('log')
    ax.set_xlim(4, 553)
    ax.set_ylim(0, ymax)
    ax.axvspan(300, 400, color='#e8c547', alpha=0.4, lw=0.5, zorder=1)
    for y in lines_for(spec_periods, ch_mean, *ch_lists):
        ax.plot(spec_periods, y, color='#3b6fb6', lw=0.45, alpha=0.22, zorder=2)
    for y in lines_for(spec_periods, cz_mean, *cz_lists):
        ax.plot(spec_periods, y, color='#b22222', lw=0.45, alpha=0.22, zorder=3)
    ax.plot(sig_periods, ch_sig, color=CH_COL, lw=0.7, ls=':', zorder=4)
    ax.plot(sig_periods, cz_sig, color=CZ_COL, lw=0.7, ls=':', zorder=6)
    l1, = ax.plot(spec_periods, ch_mean, color=CH_COL, lw=1.5, zorder=5)
    l2, = ax.plot(spec_periods, cz_mean, color=CZ_COL, lw=1.5, zorder=5)
    ax.axvline(365, color='#222222', lw=0.65, ls=(0, (4, 2)), zorder=7)
    style_axis(ax)
    ax.set_xticks([10, 30, 90, 180, 365])
    ax.set_xticklabels(['10', '30', '90', '180', '365'])
    ax.xaxis.set_minor_locator(NullLocator())
    ax.set_yticks(yticks)
    ax.set_xlabel('Period (days)', fontsize=8.3, labelpad=1.5)
    ax.set_ylabel('Wavelet power', fontsize=8.3, labelpad=0.9)
    ax.set_title(title, loc='left', fontsize=6.8, pad=2.6)
    handles = [l1, Line2D([], [], color=CH_COL, lw=0.7, ls=':'), l2, Line2D([], [], color=CZ_COL, lw=0.7, ls=':')]
    names = ['CH  (n=26)', 'CH p=0.95', 'CZ  (n=62)', 'CZ p=0.95']
    leg = ax.legend(handles, names, loc='upper left', bbox_to_anchor=(0.02, 0.98), borderaxespad=0, fontsize=5.7,
                    framealpha=0.9, edgecolor='#cccccc', handlelength=1.9, handletextpad=0.7, labelspacing=0.5, borderpad=0.45)
    leg.get_frame().set_linewidth(0.4)
    leg.set_zorder(10)
    return ax


def bars(rc, values, notes, ymax, title):
    ax = fig.add_axes(rc)
    x = np.arange(len(values))
    ax.bar(x, values, width=0.5, color=['#3f6ca7', '#b04a4a'], edgecolor='#333333', lw=0.5, zorder=2)
    ax.axhline(50, color='#888888', lw=0.6, ls=(0, (4, 1.6)), zorder=3)
    for xi, v, n in zip(x, values, notes):
        ax.text(xi, v + 1, n, ha='center', va='bottom', fontsize=7.1, linespacing=1.52, color='#111111')
    ax.set_xlim(-0.323, 1.33)
    ax.set_ylim(0, ymax)
    ax.set_xticks(x)
    ax.set_xticklabels(bar_labels)
    ax.set_yticks(np.arange(0, 101, 20))
    style_axis(ax)
    ax.set_ylabel('Catchments (%)', fontsize=8.3, labelpad=1.9)
    ax.set_title(title, loc='left', fontsize=6.8, pad=2.6)
    return ax


ax_a, cf_a = scalogram(rect(205, 60.6, 1238, 629), z_a, sig_open_a, sig_closed_a, sig_dash_a,
                       '(a)  Baseflow ($Q_b$) — ensemble scalogram')
ax_d, cf_d = scalogram(rect(205, 845, 1238, 1414), z_d, sig_open_d, sig_closed_d, sig_dash_d,
                       '(d)  Snow Water Equivalent (SWE) — ensemble scalogram')
spectrum(rect(1446.5, 60.6, 2037, 629), 546, [0, 100, 200, 300, 400, 500], '(b)  Time-averaged spectrum',
         ch_mean_b, cz_mean_b, ch_sig_b, cz_sig_b, (ch_semi_b, ch_peak_b, ch_tail_b), (cz_semi_b, cz_peak_b, cz_tail_b))
spectrum(rect(1446.5, 845, 2037, 1414), 388.7, [0, 50, 100, 150, 200, 250, 300, 350], '(e)  Time-averaged spectrum',
         ch_mean_e, cz_mean_e, ch_sig_e, cz_sig_e, (ch_semi_e, ch_peak_e, ch_tail_e), (cz_semi_e, cz_peak_e, cz_tail_e))
bars(rect(2245.5, 60.6, 2578, 629), bar_values_c, bar_notes_c, 102.3, '(c)  Sig. annual power')
bars(rect(2245.5, 845, 2578, 1414), bar_values_f, bar_notes_f, 105.7, '(f)  Sig. annual power')

cax = fig.add_axes(rect(2617, 60, 2649, 1414))
cb = fig.colorbar(cf_a, cax=cax, extend='both', extendfrac=0.05)
cb.set_ticks(cbar_ticks)
cb.set_ticklabels([f'{v:.2f}'.replace('-', '\u2212') for v in cbar_ticks])
cb.ax.tick_params(labelsize=7.7, length=1.7, width=0.5, pad=1.8)
cb.ax.minorticks_off()
cb.outline.set_linewidth(0.55)
fig.text(2777 / W, 1 - 741 / H, 'log$_2$(Power)  [shared scale]', rotation=90, ha='center', va='center', fontsize=8.3)

fig.text(60 / W, 1 - 117 / H, 'Baseflow ($Q_b$)', rotation=90, ha='center', va='center', fontsize=8.3, color='#444444', fontweight='bold')
fig.text(58 / W, 1 - 1049 / H, 'Snow Water Equivalent (SWE)', rotation=90, ha='center', va='center', fontsize=8.3, color='#444444', fontweight='bold')
fig.text(15 / W, 1 - 117 / H, 'S', rotation=90, ha='right', va='center', fontsize=12, family='DejaVu Sans', color='k')

fig.savefig('out.png', dpi=300, facecolor='white')
